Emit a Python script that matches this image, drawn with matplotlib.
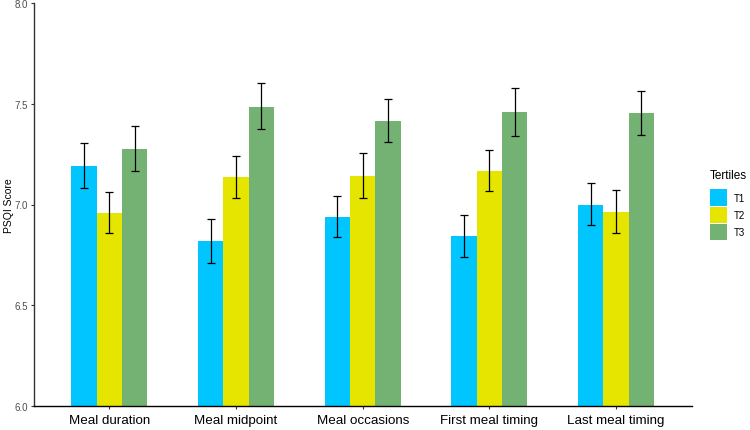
import matplotlib
matplotlib.use("Agg")
import matplotlib.pyplot as plt
import numpy as np
from matplotlib.patches import Patch

plt.rcParams['font.family'] = ['Liberation Sans', 'DejaVu Sans']

categories = ["Meal duration", "Meal midpoint", "Meal occasions", "First meal timing", "Last meal timing"]
tertiles = ["T1", "T2", "T3"]

t1_mean = [7.193, 6.819, 6.938, 6.842, 6.999]
t1_low = [7.083, 6.711, 6.837, 6.738, 6.897]
t1_high = [7.304, 6.926, 7.041, 6.946, 7.107]

t2_mean = [6.958, 7.138, 7.141, 7.166, 6.963]
t2_low = [6.857, 7.034, 7.031, 7.065, 6.857]
t2_high = [7.062, 7.241, 7.254, 7.270, 7.072]

t3_mean = [7.275, 7.485, 7.414, 7.459, 7.454]
t3_low = [7.166, 7.373, 7.309, 7.338, 7.345]
t3_high = [7.388, 7.601, 7.525, 7.578, 7.563]

colors = ["#00C5FF", "#E5E500", "#74B274"]

means = [t1_mean, t2_mean, t3_mean]
lows = [t1_low, t2_low, t3_low]
highs = [t1_high, t2_high, t3_high]

fig = plt.figure(figsize=(7.5, 4.31), dpi=100)
ax = fig.add_axes([33.5/750, 1 - 407/431, (692 - 33.5)/750, (407 - 4)/431])

x = np.arange(1, len(categories) + 1)
width = 0.2
offsets = [-0.2, 0.0, 0.2]
for i in range(3):
    m = np.array(means[i])
    lo = np.array(lows[i])
    hi = np.array(highs[i])
    ax.bar(x + offsets[i], m - 6.0, bottom=6.0, width=width, color=colors[i], linewidth=0, zorder=2)
    ax.errorbar(x + offsets[i], m, yerr=[m - lo, hi - m], fmt='none', ecolor='black',
                elinewidth=0.9, capsize=3, capthick=0.9, zorder=3)

ax.set_xlim(0.4, 5.6)
ax.set_ylim(6.0, 8.0)
ax.set_yticks([6.0, 6.5, 7.0, 7.5, 8.0])
ax.set_yticklabels(["6.0", "6.5", "7.0", "7.5", "8.0"])
ax.set_xticks(x)
ax.set_xticklabels(categories)

ax.tick_params(axis='y', labelsize=7, labelcolor='#4D4D4D', color='#333333', length=2.5, width=0.8, pad=1.5)
ax.tick_params(axis='x', labelsize=9.6, labelcolor='black', color='#333333', length=2.5, width=0.8, pad=3.5)

for s in ['top', 'right']:
    ax.spines[s].set_visible(False)
ax.spines['left'].set_color('#333333')
ax.spines['left'].set_linewidth(1.0)
ax.spines['bottom'].set_color('black')
ax.spines['bottom'].set_linewidth(1.0)

ax.set_ylabel("PSQI Score", fontsize=7.5)
ax.yaxis.set_label_coords((14 - 33.5) / 658.5, 0.5)

handles = [Patch(facecolor=c, edgecolor='none') for c in colors]
leg = fig.legend(handles, tertiles, title="Tertiles", loc='upper left',
                 bbox_to_anchor=(710/750, 1 - 170/431), frameon=False, fontsize=7,
                 title_fontsize=8.5, handlelength=1.75, handleheight=2.2,
                 labelspacing=0.1, handletextpad=0.7, borderpad=0, borderaxespad=0)
leg._legend_box.align = "left"
leg._legend_box.sep = 6

fig.savefig("out.png", dpi=100)
